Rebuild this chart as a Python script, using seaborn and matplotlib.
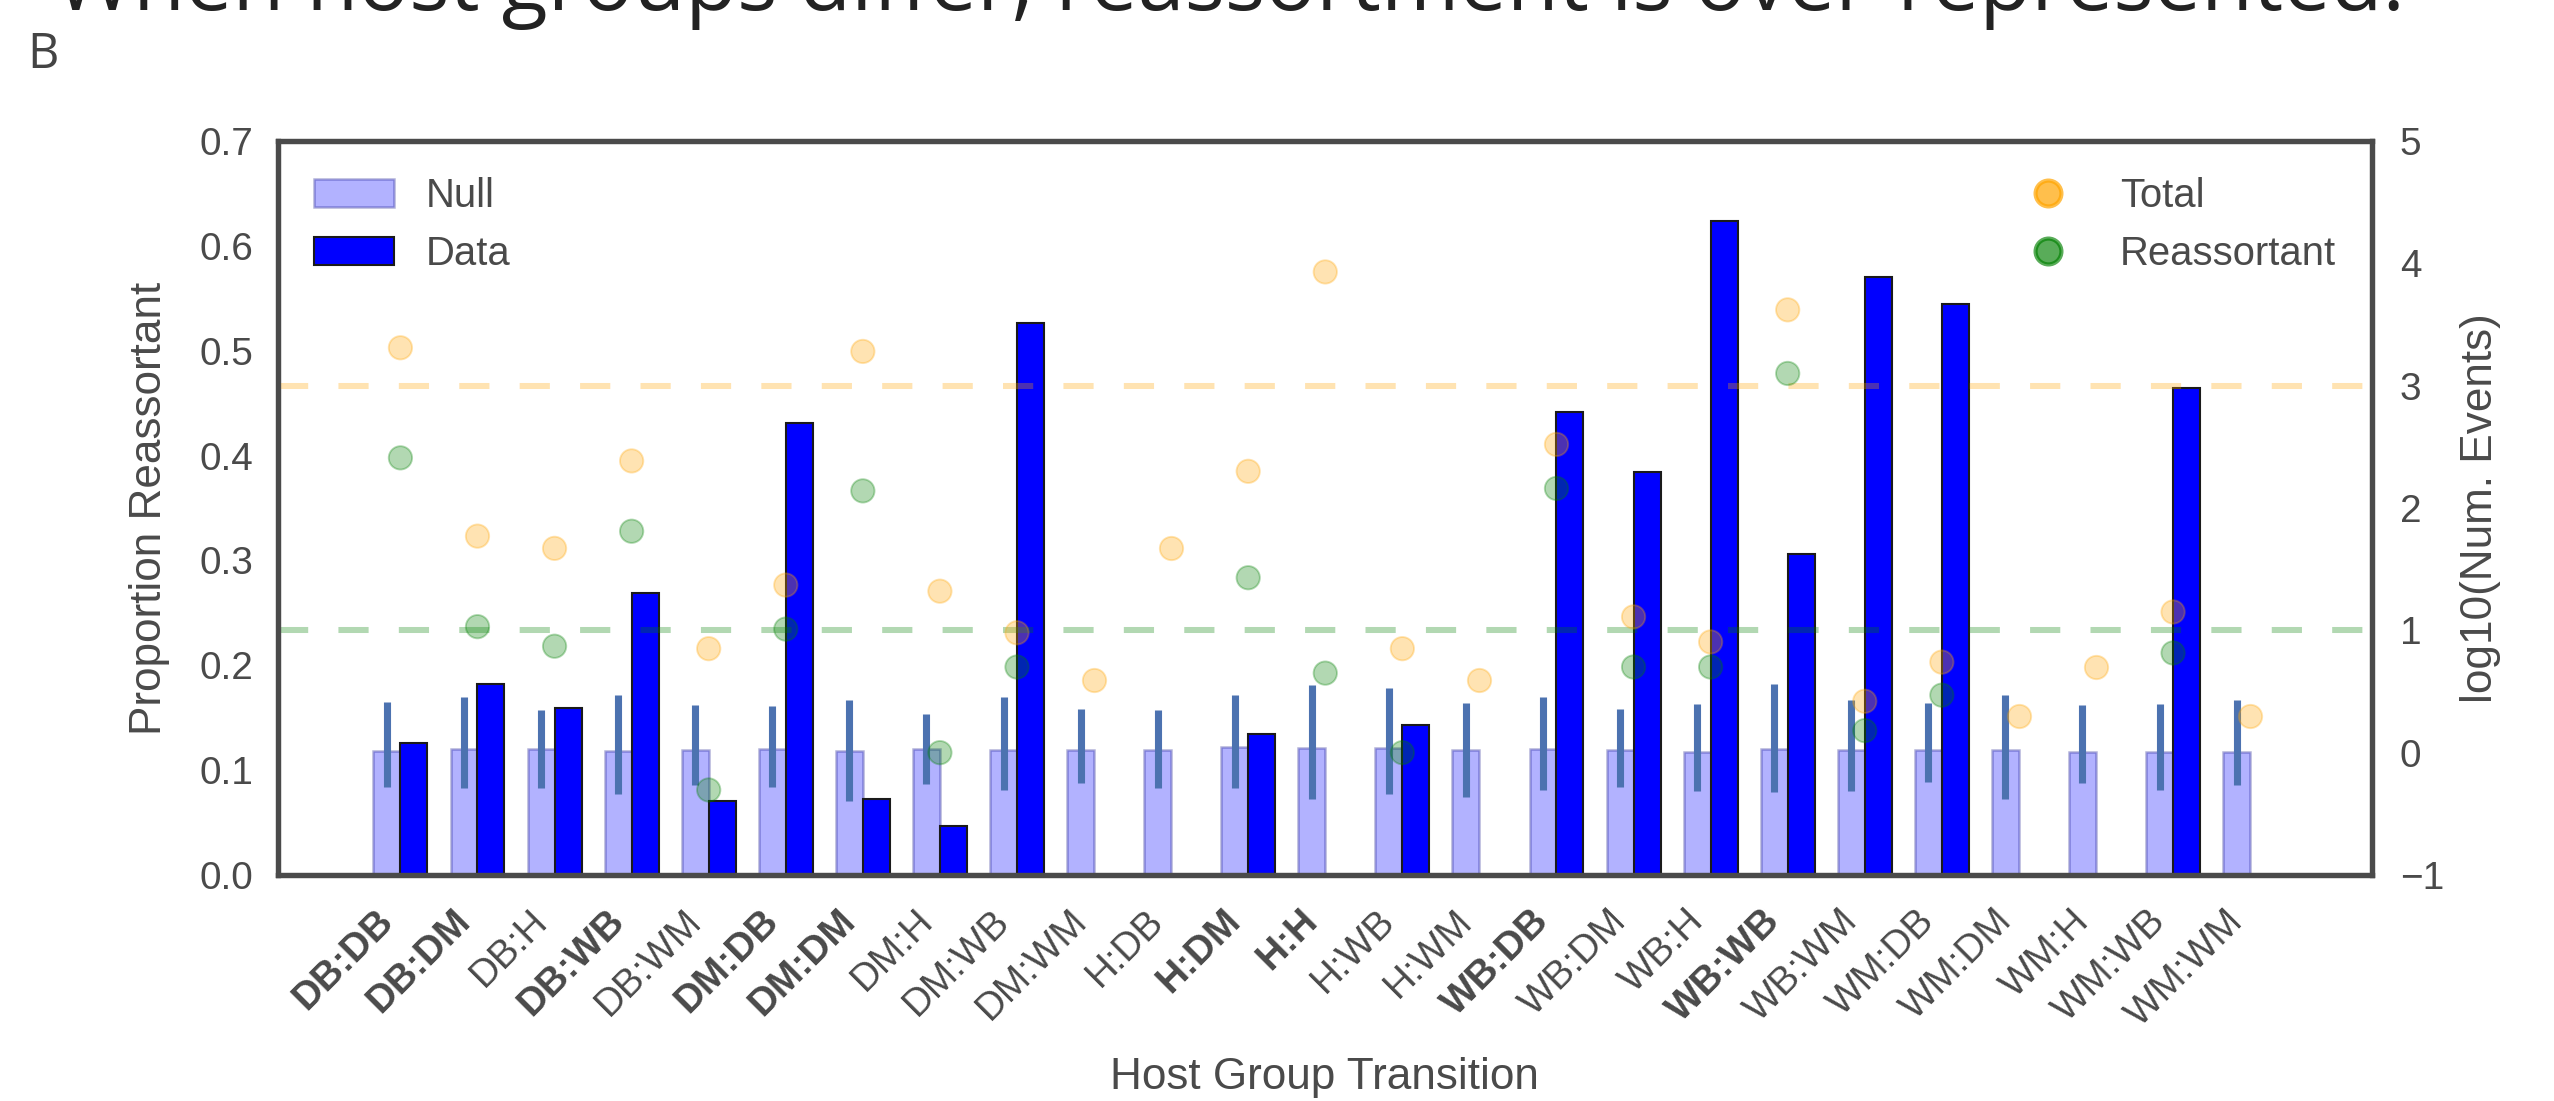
import numpy as np
import pandas as pd
import matplotlib
matplotlib.use('Agg')
import matplotlib.pyplot as plt
import seaborn as sns
from matplotlib.lines import Line2D
from matplotlib.patches import Patch

# host group transitions (source:sink)
categories = ['DB:DB', 'DB:DM', 'DB:H', 'DB:WB', 'DB:WM',
              'DM:DB', 'DM:DM', 'DM:H', 'DM:WB', 'DM:WM',
              'H:DB', 'H:DM', 'H:H', 'H:WB', 'H:WM',
              'WB:DB', 'WB:DM', 'WB:H', 'WB:WB', 'WB:WM',
              'WM:DB', 'WM:DM', 'WM:H', 'WM:WB', 'WM:WM']
bold_labels = ['DB:DB', 'DB:DM', 'DB:WB', 'DM:DB', 'DM:DM',
               'H:DM', 'H:H', 'WB:DB', 'WB:WB']

# proportion reassortant (left axis)
data_prop = [0.126, 0.182, 0.159, 0.269, 0.071,
             0.431, 0.072, 0.047, 0.526, np.nan,
             np.nan, 0.134, np.nan, 0.143, np.nan,
             0.442, 0.384, 0.624, 0.306, 0.570,
             0.545, np.nan, np.nan, 0.464, np.nan]
null_mid = [0.118, 0.120, 0.120, 0.118, 0.119,
            0.120, 0.118, 0.120, 0.119, 0.119,
            0.119, 0.122, 0.121, 0.121, 0.119,
            0.120, 0.119, 0.117, 0.120, 0.119,
            0.119, 0.119, 0.117, 0.117, 0.117]
null_lo = [0.084, 0.083, 0.083, 0.077, 0.086,
           0.084, 0.071, 0.087, 0.081, 0.088,
           0.083, 0.083, 0.072, 0.077, 0.074,
           0.081, 0.084, 0.080, 0.079, 0.080,
           0.089, 0.072, 0.088, 0.081, 0.086]
null_hi = [0.165, 0.170, 0.157, 0.172, 0.162,
           0.161, 0.167, 0.154, 0.170, 0.158,
           0.157, 0.172, 0.181, 0.178, 0.164,
           0.170, 0.158, 0.163, 0.182, 0.167,
           0.164, 0.172, 0.162, 0.163, 0.167]

# log10 number of events (right axis)
log_total = [3.31, 1.77, 1.67, 2.385, 0.85,
             1.37, 3.28, 1.32, 0.98, 0.59,
             1.67, 2.30, 3.93, 0.85, 0.59,
             2.52, 1.11, 0.905, 3.62, 0.42,
             0.74, 0.30, 0.70, 1.15, 0.30]
log_reassort = [2.41, 1.03, 0.87, 1.81, -0.305,
                1.01, 2.14, 0.0, 0.70, np.nan,
                np.nan, 1.43, 0.65, 0.0, np.nan,
                2.16, 0.70, 0.70, 3.10, 0.18,
                0.47, np.nan, np.nan, 0.815, np.nan]
total_threshold = 3
reassort_threshold = 1

sns.set_style('white')
txt = '#4a4a4a'
plt.rcParams['font.family'] = ['Liberation Sans', 'DejaVu Sans']
plt.rcParams.update({'text.color': txt, 'axes.labelcolor': txt,
                     'xtick.color': txt, 'ytick.color': txt,
                     'axes.edgecolor': txt, 'axes.linewidth': 1.25})

# long-form tables
null_df = pd.DataFrame({'transition': np.repeat(categories, 3),
                        'prop': np.column_stack([null_lo, null_mid, null_hi]).ravel(),
                        'kind': 'Null'})
data_df = pd.DataFrame({'transition': categories, 'prop': data_prop,
                        'kind': 'Data'}).dropna()
pts_df = pd.concat([
    pd.DataFrame({'transition': categories, 'log_events': log_total, 'kind': 'Total'}),
    pd.DataFrame({'transition': categories, 'log_events': log_reassort, 'kind': 'Reassortant'}),
]).dropna()

fig = plt.figure(figsize=(2554 / 300, 1101 / 300), dpi=300)
ax = fig.add_axes([0.1088, 0.2053, 0.8199, 0.6666])

bar_pal = {'Null': 'blue', 'Data': 'blue'}
sns.barplot(data=null_df, x='transition', y='prop', hue='kind',
            hue_order=['Null', 'Data'], order=categories, palette=bar_pal,
            estimator='median', errorbar=('pi', 100), width=0.7, dodge=True,
            saturation=1, alpha=0.3, edgecolor='navy', linewidth=0.6,
            err_kws={'color': '#4c72b0', 'linewidth': 1.7, 'solid_capstyle': 'butt'},
            legend=False, ax=ax)
sns.barplot(data=data_df, x='transition', y='prop', hue='kind',
            hue_order=['Null', 'Data'], order=categories, palette=bar_pal,
            errorbar=None, width=0.7, dodge=True, saturation=1,
            edgecolor='#1a1a1a', linewidth=0.5, legend=False, ax=ax)

ax2 = ax.twinx()
sns.stripplot(data=pts_df, x='transition', y='log_events', hue='kind',
              hue_order=['Total', 'Reassortant'], order=categories,
              palette={'Total': 'orange', 'Reassortant': 'green'},
              jitter=False, dodge=False, size=5.6, alpha=0.3,
              linewidth=0.45, edgecolor='face', legend=False, ax=ax2)
ax2.axhline(total_threshold, color='orange', alpha=0.3, lw=1.45, ls=(0, (5, 5)))
ax2.axhline(reassort_threshold, color='green', alpha=0.3, lw=1.45, ls=(0, (5, 5)))

ax.set_xlim(-1.59, 25.58)
ax.set_ylim(0, 0.7)
ax2.set_ylim(-1, 5)
ax.set_yticks(np.arange(0, 0.71, 0.1))
ax.set_yticklabels([f'{v:.1f}' for v in np.arange(0, 0.71, 0.1)])
ax2.set_yticks(range(-1, 6))

ax.set_xticks(range(len(categories)))
ax.set_xticklabels(categories, rotation=45, ha='right')
for lbl in ax.get_xticklabels():
    if lbl.get_text() in bold_labels:
        lbl.set_fontweight('bold')

ax.tick_params(axis='x', length=0, pad=6.7, labelsize=9.3)
ax.tick_params(axis='y', length=0, pad=6.0, labelsize=9.3)
ax2.tick_params(axis='y', length=0, pad=6.7, labelsize=9.3)

ax.set_xlabel('Host Group Transition', fontsize=10.6)
ax.xaxis.set_label_coords(0.5, -0.248)
ax.set_ylabel('Proportion Reassortant', fontsize=10.6)
ax.yaxis.set_label_coords(-0.0516, 0.5)
ax2.set_ylabel('log10(Num. Events)', fontsize=10.6)
ax2.yaxis.set_label_coords(1.042, 0.5)

for a in (ax, ax2):
    for sp in a.spines.values():
        sp.set_visible(True)
        sp.set_color(txt)
        sp.set_linewidth(1.25)

# legends
bar_handles = [Patch(facecolor='blue', alpha=0.3, edgecolor='navy', lw=0.6, label='Null'),
               Patch(facecolor='blue', edgecolor='#1a1a1a', lw=0.5, label='Data')]
leg1 = ax2.legend(handles=bar_handles, loc='upper left', frameon=False, fontsize=9.6)
ax2.add_artist(leg1)
pt_handles = [Line2D([], [], ls='', marker='o', markersize=6.2, color='orange',
                     alpha=0.7, label='Total'),
              Line2D([], [], ls='', marker='o', markersize=6.2, color='green',
                     alpha=0.65, label='Reassortant')]
ax2.legend(handles=pt_handles, loc='upper right', frameon=False, fontsize=9.6,
           numpoints=1)

fig.text(0.4816, 1 - 10 / 1101, 'When host groups differ, reassortment is over-represented.',
         ha='center', va='baseline', fontsize=20.3, family='Open Sans', color='#222222')
fig.text(27 / 2554, 1 - 68 / 1101, 'B', ha='left', va='baseline', fontsize=11.7,
         family='Open Sans', color='#444444')

fig.savefig('out.png', dpi=300)
